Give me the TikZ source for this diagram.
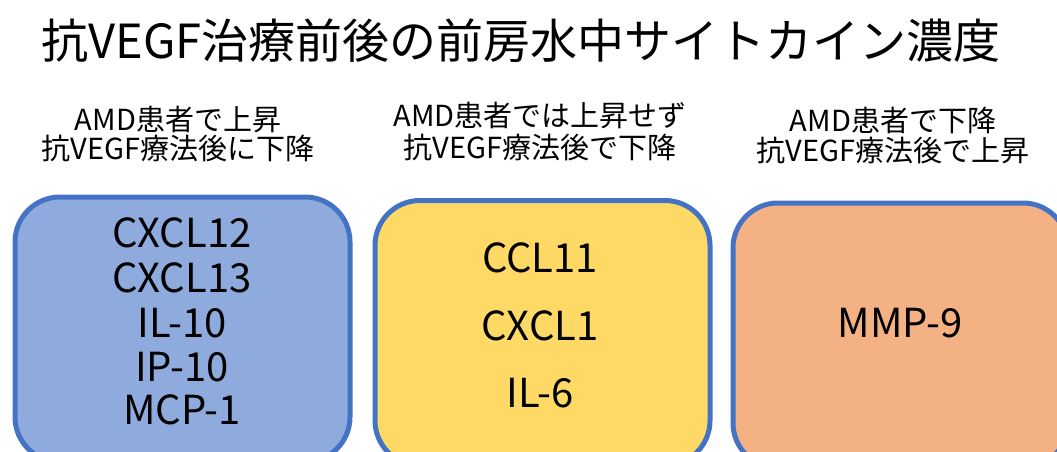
\documentclass[tikz,border=0pt]{standalone}
\usepackage{fontspec}
\newfontfamily\jp{Noto Sans CJK JP}
\definecolor{edge}{HTML}{4472C4}
\definecolor{fblue}{HTML}{8FAADC}
\definecolor{fyellow}{HTML}{FFD966}
\definecolor{forange}{HTML}{F4B183}
\tikzset{
  cbox/.style={draw=edge, line width=5pt, rounded corners=45pt, anchor=north west,
    minimum width=335pt, minimum height=265pt, inner sep=0pt},
  ttl/.style={font={\jp\fontsize{47}{52}\selectfont}, inner sep=0pt},
  sub/.style={font={\jp\fontsize{29}{32}\selectfont}, inner sep=0pt},
  item/.style={font={\jp\fontsize{40}{44}\selectfont}, inner sep=0pt}
}
\begin{document}
\begin{tikzpicture}[x=1pt,y=-1pt]
\useasboundingbox (0,0) rectangle (1057,452);
\clip (0,0) rectangle (1057,452);
\fill[white] (0,0) rectangle (1057,452);
\node[ttl] (title) at (521,41) {抗VEGF治療前後の前房水中サイトカイン濃度};
\node[sub] (s1a) at (178,120) {AMD患者で上昇};
\node[sub] (s1b) at (178,149) {抗VEGF療法後に下降};
\node[sub] (s2a) at (540,116) {AMD患者では上昇せず};
\node[sub] (s2b) at (540,148) {抗VEGF療法後で下降};
\node[sub] (s3a) at (893,120) {AMD患者で下降};
\node[sub] (s3b) at (893,151) {抗VEGF療法後で上昇};
\node[cbox, fill=fblue] (b1) at (12.5,194.5) {};
\node[cbox, fill=fyellow] (b2) at (372.5,198) {};
\node[cbox, fill=forange] (b3) at (730.5,200.5) {};
\node[item] (c1) at (182,233) {CXCL12};
\node[item] (c2) at (182,278) {CXCL13};
\node[item] (c3) at (182,323) {IL-10};
\node[item] (c4) at (182,367) {IP-10};
\node[item] (c5) at (182,410) {MCP-1};
\node[item] (d1) at (540,258) {CCL11};
\node[item] (d2) at (540,326) {CXCL1};
\node[item] (d3) at (540,393) {IL-6};
\node[item] (e1) at (900,323) {MMP-9};
\end{tikzpicture}
\end{document}
